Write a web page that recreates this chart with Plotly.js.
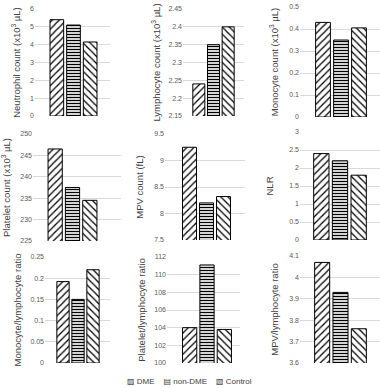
<!DOCTYPE html>
<html><head><meta charset="utf-8">
<script src="https://cdn.plot.ly/plotly-3.0.1.min.js"></script>
<style>html,body{margin:0;padding:0;background:#fff}#c{width:380px;height:388px}</style>
</head><body><div id="c"></div>
<script>
var groups = ["DME", "non-DME", "Control"];
var legendGlyphs = ["▨", "▤", "▧"];
var panelTitles = [
  "Neutrophil count (x10<sup>3</sup> µL)",
  "Lymphocyte count (x10<sup>3</sup> µL)",
  "Monocyte count (x10<sup>3</sup> µL)",
  "Platelet count (x10<sup>3</sup> µL)",
  "MPV count (fL)",
  "NLR",
  "Monocyte/lymphocyte ratio",
  "Platelet/lymphocyte ratio",
  "MPV/lymphocyte ratio"
];
var dmeValues     = [5.4, 2.24, 0.43, 246.5, 9.25, 2.4, 0.192, 104.0, 4.07];
var nonDmeValues  = [5.1, 2.35, 0.35, 237.5, 8.2, 2.2, 0.15, 111.1, 3.93];
var controlValues = [4.15, 2.40, 0.405, 234.5, 8.32, 1.8, 0.22, 103.8, 3.76];
var yMin  = [0, 2.15, 0, 225, 7.5, 0, 0, 100, 3.6];
var yMax  = [6, 2.45, 0.5, 250, 9.5, 3, 0.25, 112, 4.1];
var yStep = [1, 0.05, 0.1, 5, 0.5, 0.5, 0.05, 2, 0.1];

// layout geometry in pixels: [left, right, top, bottom, groupCenter, pxPerUnit, titleStandoff]
var geom = [
  [35, 110, 9, 116, 73.5, 50, 7],
  [183, 244, 9, 116, 213.5, 44, 6],
  [300, 380, 7, 117, 341, 54, 8],
  [33, 121, 134, 241, 72.5, 52, 7],
  [165, 245, 134, 240, 206.5, 51, 8],
  [300, 380, 132, 240, 340, 56, 13],
  [45, 110, 257, 363, 78, 45, 7],
  [167, 240, 257, 363, 207, 52, 6],
  [300, 380, 256, 363, 340.5, 55, 8]
];
var W = 380, H = 388;
var patterns = [
  {shape: "/", fgcolor: "#000", bgcolor: "#fff", size: 5, solidity: 0.25},
  {shape: "-", fgcolor: "#000", bgcolor: "#fff", size: 3, solidity: 0.45},
  {shape: "\\", fgcolor: "#000", bgcolor: "#fff", size: 5, solidity: 0.25}
];
var series = [dmeValues, nonDmeValues, controlValues];
var data = [];
var legendText = groups.map(function (g, i) {
  return "<span style='font-family:DejaVu Sans'>" + legendGlyphs[i] + "</span>\u00a0" + g;
}).join("\u00a0\u00a0\u00a0\u00a0");
var layout = {
  width: W, height: H,
  margin: {l: 0, r: 0, t: 0, b: 0},
  paper_bgcolor: "#fff", plot_bgcolor: "rgba(0,0,0,0)",
  barmode: "group", bargap: 0, bargroupgap: 0.18,
  font: {family: "Liberation Sans, Arial, sans-serif", color: "#404040"},
  showlegend: false,
  annotations: [{
    xref: "paper", yref: "paper", x: 189 / W, y: 1 - 381 / H,
    xanchor: "center", yanchor: "middle", showarrow: false,
    text: legendText, font: {size: 8, color: "#404040"}
  }]
};
for (var p = 0; p < 9; p++) {
  var g = geom[p];
  var sfx = p === 0 ? "" : String(p + 1);
  for (var s = 0; s < 3; s++) {
    data.push({
      type: "bar",
      x: ["group"],
      y: [series[s][p]],
      name: groups[s],
      xaxis: "x" + sfx, yaxis: "y" + sfx,
      marker: {color: "#fff", line: {color: "#000", width: 1}, pattern: patterns[s]},
      hoverinfo: "y"
    });
  }
  var L = g[0], R = g[1], T = g[2], B = g[3], c = g[4], sc = g[5];
  layout["xaxis" + sfx] = {
    domain: [L / W, R / W],
    anchor: "y" + sfx,
    type: "category",
    range: [(L - c) / sc, (R - c) / sc],
    showticklabels: false, showgrid: false, zeroline: false, showline: false, ticks: "",
    fixedrange: true
  };
  layout["yaxis" + sfx] = {
    domain: [1 - B / H, 1 - T / H],
    anchor: "x" + sfx,
    range: [yMin[p], yMax[p]],
    dtick: yStep[p], tick0: yMin[p],
    showgrid: true, gridcolor: "#d9d9d9", gridwidth: 1,
    zeroline: false, showline: false, ticks: "",
    tickfont: {size: 7, color: "#595959"},
    title: {text: panelTitles[p], font: {size: 9.5, color: "#404040"}, standoff: g[6]},
    fixedrange: true
  };
}
Plotly.newPlot("c", data, layout, {displayModeBar: false, staticPlot: true});
</script></body></html>
